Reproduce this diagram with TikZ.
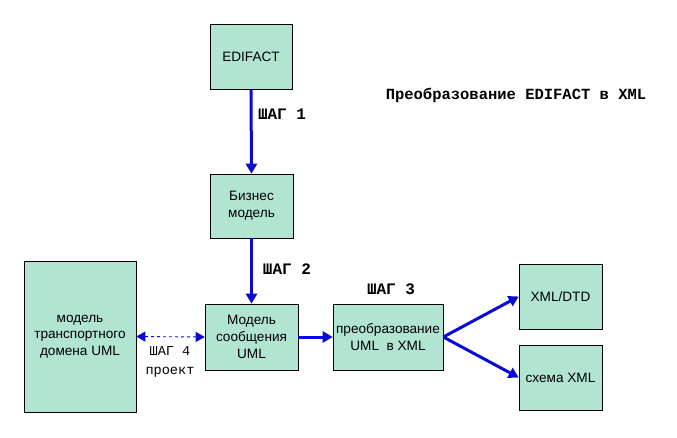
\documentclass[tikz,border=0pt]{standalone}
\usepackage{fontspec}
\setmainfont{Liberation Sans}
\newfontfamily\monofont{Liberation Mono}
\usetikzlibrary{arrows.meta}
\definecolor{boxfill}{RGB}{178,228,210}
\definecolor{arrowblue}{RGB}{10,10,215}
\tikzset{
  box/.style={draw=black, line width=0.6pt, fill=boxfill, inner sep=0pt, align=center, font=\fontsize{13.6}{16.8}\selectfont},
  flow/.style={draw=arrowblue, line width=3pt, -{Triangle[length=10pt,width=11pt]}},
  dflow/.style={draw=arrowblue, line width=0.9pt, dashed, {Triangle[length=9pt,width=10pt]}-{Triangle[length=9pt,width=10pt]}},
  steplabel/.style={font=\monofont\bfseries\fontsize{16}{18}\selectfont, inner sep=0pt},
  plainlabel/.style={font=\monofont\fontsize{13.6}{19}\selectfont, inner sep=0pt, align=center}
}
\begin{document}
\begin{tikzpicture}[x=1pt,y=-1pt]
\useasboundingbox (0,0) rectangle (677,437);
\node[box, minimum width=82pt, minimum height=65pt] (edi) at (251,56.5) {EDIFACT};
\node[box, minimum width=83pt, minimum height=64pt] (biz) at (251.5,206) {Бизнес\\модель};
\node[box, minimum width=93pt, minimum height=66pt] (msg) at (251.5,337) {Модель\\сообщения\\UML};
\node[box, minimum width=112pt, minimum height=151pt] (dom) at (80,336.5) {модель\\транспортного\\домена UML};
\node[box, minimum width=110pt, minimum height=66pt] (conv) at (388,337) {преобразование\\UML\ \ в XML};
\node[box, minimum width=83pt, minimum height=65pt] (dtd) at (560.5,296.5) {XML/DTD};
\node[box, minimum width=83pt, minimum height=65pt] (sch) at (560.5,377.5) {схема XML};

\node[steplabel, font=\monofont\bfseries\fontsize{15.5}{18}\selectfont] (title) at (516,95) {Преобразование EDIFACT в XML};
\node[steplabel] (s1) at (282,114) {ШАГ 1};
\node[steplabel] (s2) at (287,269) {ШАГ 2};
\node[steplabel] (s3) at (391,289) {ШАГ 3};
\node[plainlabel] (s4) at (170,362) {ШАГ 4\\проект};

\draw[flow] (edi.south) -- (biz.north);
\draw[flow] (biz.south) -- (msg.north);
\draw[flow] (msg.east) -- (conv.east -| conv.west);
\draw[flow] (conv.east) -- (dtd.west);
\draw[flow] (conv.east) -- (sch.west);
\draw[dflow] (dom.east) -- (msg.west);
\end{tikzpicture}
\end{document}
